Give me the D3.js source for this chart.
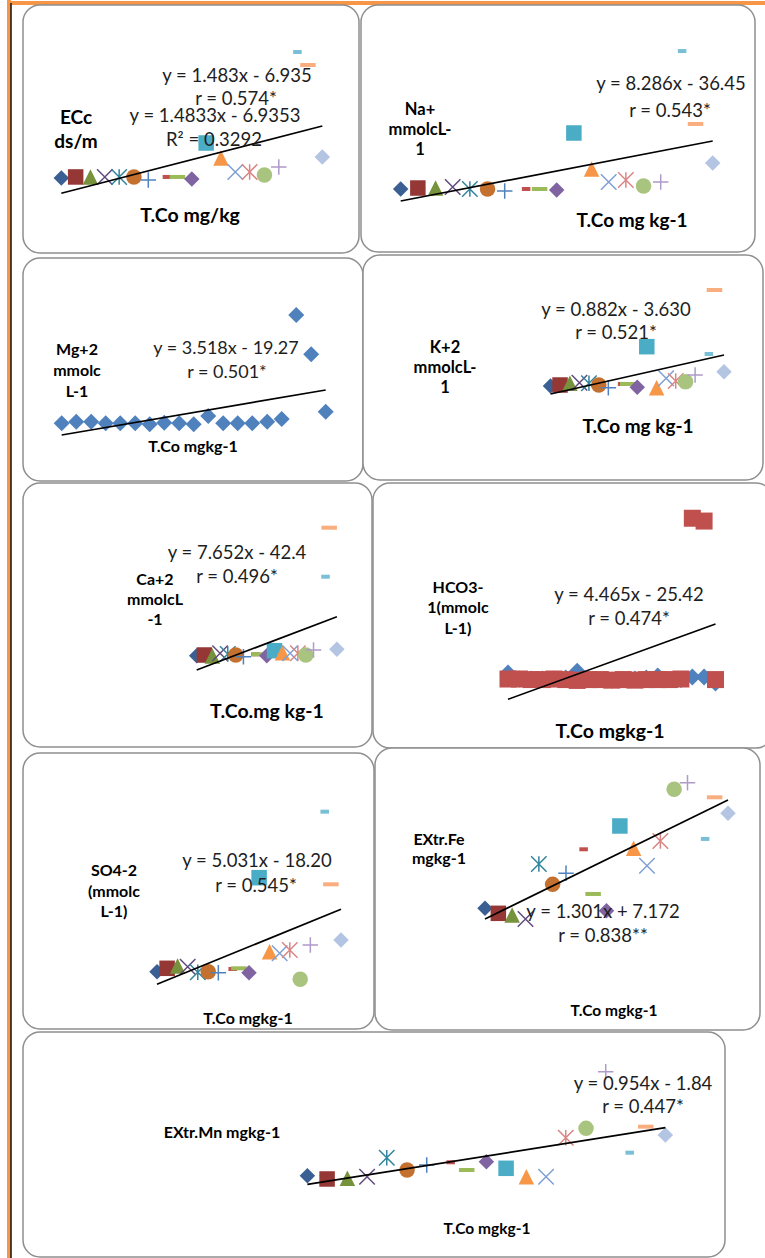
<!DOCTYPE html>
<html>
<head>
<meta charset="utf-8">
<script src="https://cdn.jsdelivr.net/npm/d3@7"></script>
<style>
  html, body { margin: 0; padding: 0; background: #fff; }
  svg { display: block; }
  text { font-family: Lato, "Open Sans", sans-serif; }
</style>
</head>
<body>
<svg id="chart" width="765" height="1258"></svg>
<script>
// ---- Data -------------------------------------------------------------
// Total cobalt (mg/kg) of the 19 soil samples (x for every panel)
const tco = [5.6, 5.93, 6.27, 6.6, 6.93, 7.27, 7.6, 7.93, 8.27, 8.6, 8.93, 9.27, 9.6, 9.93, 10.27, 10.6, 10.93, 11.27, 11.6];

// Soil properties, one value per sample
const ecc  = [3.39, 3.53, 3.53, 3.53, 3.53, 3.53, 3.13, 3.53, 3.53, 3.26, 8.02, 6.04, 4.19, 4.19, 3.79, 4.85, 20.05, 18.33, 6.17];
const na   = [19.9, 20.7, 20.7, 21.6, 19.9, 19.9, 18.2, 19.9, 19.9, 19.1, 66.3, 36.5, 25.7, 27.4, 22.4, 25.7, 134.2, 73.8, 41.4];
const mg   = [5.92, 6.67, 6.67, 5.92, 5.92, 5.92, 5.45, 6.2, 5.92, 5.45, 9.34, 5.92, 5.92, 5.92, 6.67, 7.93, 56.7, 38.3, 11.36];
const kk   = [2.4, 2.53, 2.76, 2.84, 2.76, 2.53, 2.16, 2.67, 2.67, 2.22, 7.73, 2.16, 3.44, 3.07, 2.98, 3.89, 6.74, 15.42, 4.34];
const ca   = [12.77, 13.37, 12.51, 14.84, 14.23, 13.37, 11.91, 13.97, 13.97, 12.77, 17.08, 15.35, 14.84, 14.84, 13.37, 17.68, 80.82, 123.03, 18.28];
const hco3 = [8.9, 6.8, 6.8, 6.8, 6.8, 7.2, 9.6, 6.8, 6.6, 6.4, 6.6, 6.8, 7.2, 7.9, 6.6, 6.6, 7.5, 7.5, 5.4];
const hco3b = [6.8, 6.8, 6.6, 6.6, 6.8, 6.6, 6.3, 6.6, 6.6, 6.4, 6.6, 6.4, 6.6, 6.6, 6.6, 6.8, 64.0, 63.0, 6.6];
const so4  = [15.04, 16.41, 17.34, 17.06, 14.8, 15.04, 14.64, 16.13, 16.41, 14.64, 52.88, 23.1, 22.45, 23.78, 11.99, 25.79, 79.45, 50.22, 27.8];
const fe   = [15.16, 14.83, 14.72, 14.46, 18.07, 16.73, 17.46, 19.03, 16.1, 15.0, 20.56, 19.1, 17.95, 19.58, 22.97, 23.4, 19.71, 22.44, 21.39];
const mn   = [4.37, 4.04, 4.11, 4.27, 6.19, 4.95, 5.45, 5.73, 4.95, 5.79, 5.12, 4.27, 4.27, 8.21, 9.16, 14.89, 6.7, 9.33, 8.49];

// Linear fits (slope, intercept) and their printed labels
const fitSlope     = [1.483, 8.286, 3.518, 0.882, 7.652, 4.465, 5.031, 1.301, 0.954];
const fitIntercept = [-6.935, -36.45, -19.27, -3.630, -42.4, -25.42, -18.20, 7.172, -1.84];
const eqLabels = ["y = 1.483x - 6.935", "y = 8.286x - 36.45", "y = 3.518x - 19.27", "y = 0.882x - 3.630",
                  "y = 7.652x - 42.4", "y = 4.465x - 25.42", "y = 5.031x - 18.20", "y = 1.301x + 7.172", "y = 0.954x - 1.84"];
const rLabels  = ["r = 0.574*", "r = 0.543*", "r = 0.501*", "r = 0.521*", "r = 0.496*", "r = 0.474*", "r = 0.545*", "r = 0.838**", "r = 0.447*"];

// ---- Marker styles (one per sample series) -----------------------------
const markerShapes = ["diamond", "square", "triangle", "x", "star", "circle", "plus", "dash", "longdash",
                      "diamond", "square", "triangle", "x", "star", "circle", "plus", "dash", "longdash", "diamond"];
const markerColors = ["#3A5F93", "#953735", "#76923C", "#5F4A7D", "#31859C", "#C4702F", "#4F81BD", "#C0504D", "#9BBB59",
                      "#8064A2", "#4BACC6", "#F79646", "#7F9FD3", "#D98684", "#A9C47F", "#AE9BC9", "#79C0D6", "#F9AE80", "#B3C5E3"];

// ---- Panel layout -------------------------------------------------------
const panels = [
  { ys: [ecc], mode: "multi", box: [23, 5, 336, 248], xr: [61.3, 322.3], yr: [193.3, 126],
    eq: [237, 82], r: [236, 105], eqSize: 18.5,
    extra: [{ t: "y = 1.4833x - 6.9353", x: 215, y: 122 }, { t: "R² = 0.3292", x: 214, y: 146 }],
    label: { lines: ["ECc", "ds/m"], x: 76, y: [124, 148], size: 19 },
    title: { t: "T.Co mg/kg", x: 190, y: 222, size: 19.5 } },
  { ys: [na], mode: "multi", box: [361, 5, 394, 247], xr: [400.7, 712.7], yr: [201, 141],
    eq: [671, 90], r: [670, 117], eqSize: 18.5,
    label: { lines: ["Na+", "mmolcL-", "1"], x: 420, y: [115, 135, 155], size: 16.5 },
    title: { t: "T.Co mg kg-1", x: 632, y: 227, size: 19 } },
  { ys: [mg], mode: "single", box: [23, 258, 340, 223], xr: [61.7, 325.7], yr: [435, 390],
    eq: [226, 354], r: [227, 378], eqSize: 18,
    label: { lines: ["Mg+2", "mmolc", "L-1"], x: 77, y: [355, 376, 397], size: 16 },
    title: { t: "T.Co mgkg-1", x: 193, y: 452, size: 16 } },
  { ys: [kk], mode: "multi", box: [363, 255, 400, 225], xr: [550.5, 724], yr: [394, 355],
    eq: [616, 316], r: [616, 339], eqSize: 18.5,
    label: { lines: ["K+2", "mmolcL-", "1"], x: 445, y: [353, 373, 393], size: 16.5 },
    title: { t: "T.Co mg kg-1", x: 638, y: 433, size: 19 } },
  { ys: [ca], mode: "multi", box: [23, 483, 349, 264], xr: [196.7, 336.9], yr: [670, 616.7],
    eq: [237, 559], r: [237, 583], eqSize: 18.5,
    label: { lines: ["Ca+2", "mmolcL", "-1"], x: 155, y: [585, 605, 625], size: 16 },
    title: { t: "T.Co.mg kg-1", x: 267, y: 718, size: 19.5 } },
  { ys: [hco3, hco3b], mode: "pair", box: [373, 483, 400, 265], xr: [508, 715.5], yr: [699.3, 624],
    eq: [629, 601], r: [629, 625], eqSize: 18.5,
    label: { lines: ["HCO3-", "1(mmolc", "L-1)"], x: 458, y: [593, 613, 634], size: 16 },
    title: { t: "T.Co mgkg-1", x: 610, y: 738, size: 19.5 } },
  { ys: [so4], mode: "multi", box: [23, 753, 351, 276], xr: [157, 341], yr: [984.3, 909.3],
    eq: [257, 867], r: [256, 892], eqSize: 18.5,
    label: { lines: ["SO4-2", "(mmolc", "L-1)"], x: 114, y: [876, 897, 917], size: 16 },
    title: { t: "T.Co mgkg-1", x: 248, y: 1024, size: 16 } },
  { ys: [fe], mode: "multi", box: [375, 748, 385, 282], xr: [485, 728], yr: [919, 800],
    eq: [603, 918], r: [603, 942], eqSize: 18.5,
    label: { lines: ["EXtr.Fe", "mgkg-1"], x: 439, y: [845, 864], size: 16 },
    title: { t: "T.Co mgkg-1", x: 614, y: 1016, size: 15.5 } },
  { ys: [mn], mode: "multi", box: [23, 1032, 702, 225], xr: [307.4, 665.4], yr: [1184.3, 1127.7],
    eq: [643, 1090], r: [643, 1113], eqSize: 18.5,
    label: { lines: ["EXtr.Mn mgkg-1"], x: 222, y: [1138], size: 16 },
    title: { t: "T.Co mgkg-1", x: 487, y: 1234, size: 15.5 } }
];

const svg = d3.select("#chart");

// Page frame: orange rule down the left edge and along the top
svg.append("rect").attr("x", 7).attr("y", 0).attr("width", 4).attr("height", 1258).attr("fill", "#F79646");
svg.append("rect").attr("x", 7).attr("y", 1).attr("width", 758).attr("height", 4).attr("fill", "#F79646");
svg.append("line").attr("x1", 11).attr("x2", 11).attr("y1", 3).attr("y2", 1258)
  .attr("stroke", "#111").attr("stroke-width", 1.5);

// Draws one marker centred on the current group origin
function drawMarker(g, shape, color, s) {
  const h = s / 2;
  switch (shape) {
    case "diamond":
      g.append("path").attr("d", `M0,${-h}L${h},0L0,${h}L${-h},0Z`).attr("fill", color); break;
    case "square":
      g.append("rect").attr("x", -h).attr("y", -h).attr("width", s).attr("height", s).attr("fill", color); break;
    case "triangle":
      g.append("path").attr("d", `M0,${-h}L${h},${h}L${-h},${h}Z`).attr("fill", color); break;
    case "circle":
      g.append("circle").attr("r", h).attr("fill", color); break;
    case "x":
      g.append("path").attr("d", `M${-h},${-h}L${h},${h}M${h},${-h}L${-h},${h}`)
        .attr("stroke", color).attr("stroke-width", 1.5).attr("fill", "none"); break;
    case "star":
      g.append("path").attr("d", `M${-h},${-h}L${h},${h}M${h},${-h}L${-h},${h}M0,${-h}L0,${h}`)
        .attr("stroke", color).attr("stroke-width", 1.5).attr("fill", "none"); break;
    case "plus":
      g.append("path").attr("d", `M${-h},0L${h},0M0,${-h}L0,${h}`)
        .attr("stroke", color).attr("stroke-width", 1.5).attr("fill", "none"); break;
    case "dash":
      g.append("rect").attr("x", 0).attr("y", -2).attr("width", s * 0.55).attr("height", 4).attr("fill", color); break;
    case "longdash":
      g.append("rect").attr("x", -h).attr("y", -2).attr("width", s).attr("height", 4).attr("fill", color); break;
  }
}

panels.forEach((p, i) => {
  const g = svg.append("g");
  const [bx, by, bw, bh] = p.box;
  g.append("rect").attr("x", bx).attr("y", by).attr("width", bw).attr("height", bh)
    .attr("rx", 17).attr("ry", 17).attr("fill", "#fff")
    .attr("stroke", "#8f8f8f").attr("stroke-width", 1.5);

  const slope = fitSlope[i], icpt = fitIntercept[i];
  const fit = x => slope * x + icpt;
  const xDom = d3.extent(tco);
  const x = d3.scaleLinear().domain(xDom).range(p.xr);
  const y = d3.scaleLinear().domain([fit(xDom[0]), fit(xDom[1])]).range(p.yr);

  const pts = g.append("g");
  if (p.mode === "multi") {
    p.ys[0].forEach((v, j) => {
      const m = pts.append("g").attr("transform", `translate(${x(tco[j])},${y(v)})`);
      drawMarker(m, markerShapes[j], markerColors[j], 15.5);
    });
  } else if (p.mode === "single") {
    p.ys[0].forEach((v, j) => {
      const m = pts.append("g").attr("transform", `translate(${x(tco[j])},${y(v)})`);
      drawMarker(m, "diamond", "#4F81BD", 16);
    });
  } else {
    p.ys[0].forEach((v, j) => {
      const m = pts.append("g").attr("transform", `translate(${x(tco[j])},${y(v)})`);
      drawMarker(m, "diamond", "#4F81BD", 17);
    });
    p.ys[1].forEach((v, j) => {
      const m = pts.append("g").attr("transform", `translate(${x(tco[j])},${y(v)})`);
      drawMarker(m, "square", "#C0504D", 17);
    });
  }

  // fitted trend line
  g.append("path")
    .attr("d", d3.line().x(d => x(d)).y(d => y(fit(d)))(xDom))
    .attr("stroke", "#000").attr("stroke-width", 1.7).attr("fill", "none");

  const eqG = g.append("g").attr("text-anchor", "middle").attr("fill", "#1e1e1e")
    .style("font-size", p.eqSize + "px");
  eqG.append("text").attr("x", p.eq[0]).attr("y", p.eq[1]).text(eqLabels[i]);
  eqG.append("text").attr("x", p.r[0]).attr("y", p.r[1]).text(rLabels[i]);
  (p.extra || []).forEach(e => eqG.append("text").attr("x", e.x).attr("y", e.y).text(e.t));

  const lab = g.append("g").attr("text-anchor", "middle").attr("fill", "#000")
    .style("font-weight", 700).style("font-size", p.label.size + "px");
  p.label.lines.forEach((t, k) => lab.append("text").attr("x", p.label.x).attr("y", p.label.y[k]).text(t));

  g.append("text").attr("x", p.title.x).attr("y", p.title.y).attr("text-anchor", "middle")
    .style("font-weight", 700).style("font-size", p.title.size + "px").attr("fill", "#000")
    .text(p.title.t);
});
</script>
</body>
</html>
